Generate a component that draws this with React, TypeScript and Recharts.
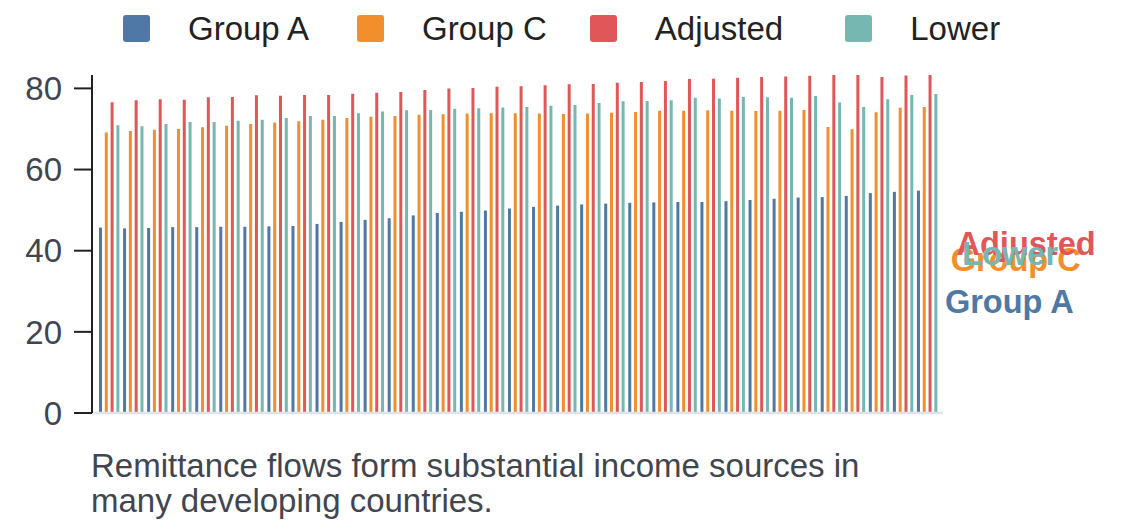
import React from 'react';
import { BarChart, Bar, XAxis, YAxis, LabelList } from 'recharts';

// 35 periods, no tick labels shown on the x axis
const categories = [
  'P1', 'P2', 'P3', 'P4', 'P5', 'P6', 'P7', 'P8', 'P9', 'P10',
  'P11', 'P12', 'P13', 'P14', 'P15', 'P16', 'P17', 'P18', 'P19', 'P20',
  'P21', 'P22', 'P23', 'P24', 'P25', 'P26', 'P27', 'P28', 'P29', 'P30',
  'P31', 'P32', 'P33', 'P34', 'P35',
];

const groupA = [
  45.7, 45.5, 45.6, 45.8, 45.8, 45.9, 45.9, 46.0, 46.1, 46.6,
  47.1, 47.6, 48.0, 48.7, 49.3, 49.6, 49.9, 50.4, 50.8, 51.1,
  51.4, 51.6, 51.8, 51.9, 52.0, 52.0, 52.2, 52.5, 52.8, 53.1,
  53.2, 53.5, 54.2, 54.5, 54.8,
];

const groupC = [
  69.1, 69.5, 69.8, 70.0, 70.4, 70.8, 71.2, 71.6, 71.9, 72.3,
  72.7, 73.0, 73.2, 73.5, 73.6, 73.8, 73.9, 73.9, 73.8, 73.7,
  73.8, 74.0, 74.2, 74.5, 74.5, 74.6, 74.5, 74.4, 74.5, 74.7,
  70.5, 69.9, 74.1, 75.2, 75.4,
];

const adjusted = [
  76.6, 77.1, 77.3, 77.2, 77.8, 77.9, 78.3, 78.2, 78.4, 78.4,
  78.7, 78.9, 79.1, 79.6, 80.0, 80.1, 80.4, 80.5, 80.8, 81.0,
  81.1, 81.4, 81.6, 81.8, 82.3, 82.4, 82.6, 82.8, 82.9, 83.1,
  83.3, 83.3, 82.8, 83.2, 83.3,
];

const lower = [
  70.9, 70.7, 71.2, 71.7, 71.7, 72.0, 72.3, 72.7, 73.2, 73.2,
  73.9, 74.3, 74.6, 74.7, 75.0, 75.1, 75.3, 75.4, 75.7, 75.9,
  76.4, 76.8, 76.9, 77.1, 77.7, 77.5, 77.9, 77.8, 77.7, 78.1,
  76.5, 75.4, 77.3, 78.4, 78.6,
];

const yTicks = [0, 20, 40, 60, 80];

const caption = 'Remittance flows form substantial income sources in many developing countries.';

const series = [
  { key: 'groupA', name: 'Group A', color: '#4e79a7', values: groupA },
  { key: 'groupC', name: 'Group C', color: '#f28e2b', values: groupC },
  { key: 'adjusted', name: 'Adjusted', color: '#e15759', values: adjusted },
  { key: 'lower', name: 'Lower', color: '#76b7b2', values: lower },
];

const data = categories.map((c, i) => {
  const row: Record<string, string | number> = { category: c };
  series.forEach((s) => {
    row[s.key] = s.values[i];
  });
  return row;
});

const FONT = '"Liberation Sans", Arial, Helvetica, sans-serif';
const LAST = categories.length - 1;
const legendGaps = [48, 43, 62, 0];

// name label drawn to the right of the last bar, at half its height
function endLabel(name: string, color: string) {
  return (props: any) => {
    const { x, y, width, height, index } = props;
    if (index !== LAST) return null;
    return (
      <text
        x={Number(x) + Number(width) + 25}
        y={Number(y) + Number(height) / 2}
        fill={color}
        fontSize={32.5}
        fontWeight={700}
        fontFamily={FONT}
        dominantBaseline="central"
      >
        {name}
      </text>
    );
  };
}

function TopLegend() {
  return (
    <div
      style={{
        position: 'absolute',
        top: 15,
        left: 123,
        display: 'flex',
        fontFamily: FONT,
        fontSize: 33,
        color: '#222',
        lineHeight: '27px',
      }}
    >
      {series.map((s, i) => (
        <div
          key={s.key}
          style={{ display: 'flex', alignItems: 'center', marginRight: legendGaps[i] }}
        >
          <span
            style={{
              width: 27,
              height: 27,
              borderRadius: 3,
              background: s.color,
              marginRight: 38,
              display: 'inline-block',
            }}
          />
          <span>{s.name}</span>
        </div>
      ))}
    </div>
  );
}

export default function App() {
  return (
    <div style={{ position: 'absolute', left: 0, top: 0, width: 1140, height: 528, background: '#fff' }}>
      <TopLegend />
      <div style={{ position: 'absolute', left: 0, top: 0 }}>
        <BarChart
          width={1140}
          height={528}
          data={data}
          margin={{ top: 75, right: 197, bottom: 114, left: 12 }}
          barSize={3}
          barGap={2.8}
        >
          <XAxis
            dataKey="category"
            tick={false}
            tickLine={false}
            height={1}
            padding={{ left: 5, right: 4 }}
            axisLine={{ stroke: '#dfe2e8', strokeWidth: 2.5 }}
          />
          <YAxis
            width={80}
            domain={[0, 'dataMax']}
            ticks={yTicks}
            tickSize={18}
            tickMargin={12}
            axisLine={{ stroke: '#222', strokeWidth: 2 }}
            tickLine={{ stroke: '#222', strokeWidth: 2 }}
            tick={{ fontSize: 33, fill: '#40454f', fontFamily: FONT }}
          />
          {series.map((s) => (
            <Bar key={s.key} dataKey={s.key} name={s.name} fill={s.color} isAnimationActive={false}>
              <LabelList dataKey={s.key} content={endLabel(s.name, s.color)} />
            </Bar>
          ))}
        </BarChart>
      </div>
      <div
        style={{
          position: 'absolute',
          left: 91,
          top: 448,
          width: 800,
          fontFamily: FONT,
          fontSize: 33,
          lineHeight: '35px',
          color: '#40454f',
        }}
      >
        {caption}
      </div>
    </div>
  );
}
